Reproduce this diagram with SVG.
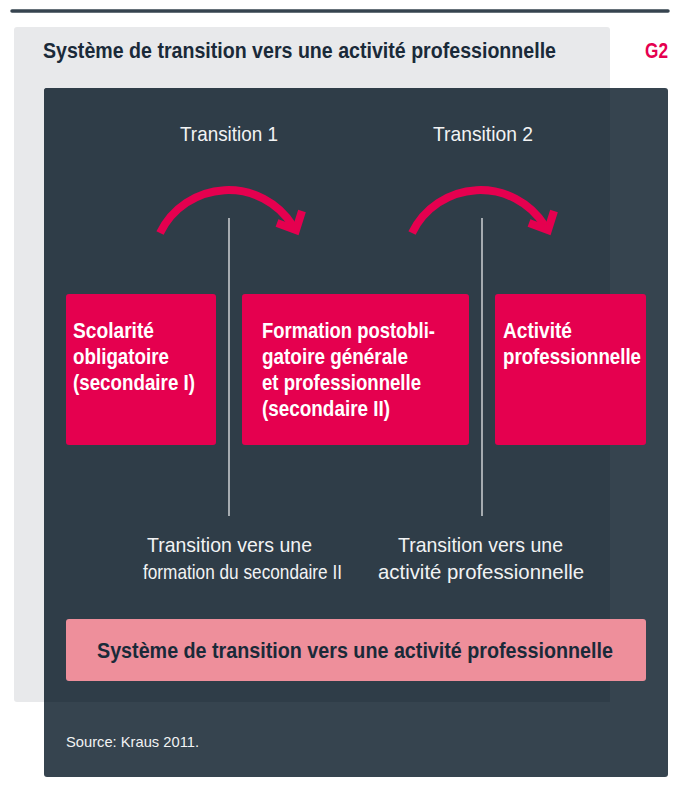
<svg xmlns="http://www.w3.org/2000/svg" width="681" height="807" viewBox="0 0 681 807">
<style>
.t{font-family:"Liberation Sans Narrow","Liberation Sans",Arial,sans-serif;}
.b{font-weight:bold;}
.w{fill:#f2f3f4;font-size:21px;}
.bw{fill:#ffffff;font-size:22px;font-weight:bold;}
.node rect{fill:#e5004f;}
.arc{fill:none;stroke:#e5004f;stroke-width:8;stroke-linejoin:miter;stroke-miterlimit:10;}
.sep{stroke:#e6e8ea;stroke-width:1.3;}
</style>
<rect width="681" height="807" fill="#ffffff"/>
<line x1="12" y1="11" x2="668" y2="11" stroke="#36444f" stroke-width="3.5" stroke-linecap="round"/>
<g id="background">
<rect x="14" y="27" width="596" height="675" rx="3" fill="#e8e9eb"/>
<text class="t b" x="43" y="58" font-size="22" fill="#1a2a39" textLength="513" lengthAdjust="spacingAndGlyphs">Système de transition vers une activité professionnelle</text>
<text class="t b" x="668" y="58" font-size="22" fill="#e5004f" text-anchor="end" textLength="23" lengthAdjust="spacingAndGlyphs">G2</text>
<rect x="44" y="88" width="624" height="689" rx="3" fill="#36444f"/>
<path d="M44 91 Q44 88 47 88 L610 88 L610 702 L44 702 Z" fill="#2f3d48"/>
</g>
<g id="labels">
<text class="t w" x="180" y="141" textLength="98" lengthAdjust="spacingAndGlyphs">Transition 1</text>
<text class="t w" x="433" y="141" textLength="100" lengthAdjust="spacingAndGlyphs">Transition 2</text>
<text class="t w" x="147" y="552" textLength="165" lengthAdjust="spacingAndGlyphs">Transition vers une</text>
<text class="t w" x="143" y="579" textLength="199" lengthAdjust="spacingAndGlyphs">formation du secondaire II</text>
<text class="t w" x="398" y="552" textLength="165" lengthAdjust="spacingAndGlyphs">Transition vers une</text>
<text class="t w" x="378" y="579" textLength="206" lengthAdjust="spacingAndGlyphs">activité professionnelle</text>
</g>
<g id="connectors">
<line class="sep" x1="229" y1="218" x2="229" y2="516"/>
<line class="sep" x1="482" y1="218" x2="482" y2="516"/>
<path class="arc" d="M160 233 A 76 76 0 0 1 293 226"/>
<path class="arc" d="M277 223 L296 230 L302 211"/>
<path class="arc" d="M412 233 A 76 76 0 0 1 545 226"/>
<path class="arc" d="M529 223 L548 230 L554 211"/>
</g>
<g id="node-scolarite" class="node">
<rect x="66" y="294" width="150" height="151" rx="3"/>
<text class="t bw" x="73" y="338" textLength="81" lengthAdjust="spacingAndGlyphs">Scolarité</text>
<text class="t bw" x="73" y="364" textLength="96" lengthAdjust="spacingAndGlyphs">obligatoire</text>
<text class="t bw" x="73" y="390" textLength="122" lengthAdjust="spacingAndGlyphs">(secondaire I)</text>
</g>
<g id="node-formation" class="node">
<rect x="242" y="294" width="227" height="151" rx="3"/>
<text class="t bw" x="262" y="338" textLength="173" lengthAdjust="spacingAndGlyphs">Formation postobli-</text>
<text class="t bw" x="262" y="364" textLength="146" lengthAdjust="spacingAndGlyphs">gatoire générale</text>
<text class="t bw" x="262" y="390" textLength="159" lengthAdjust="spacingAndGlyphs">et professionnelle</text>
<text class="t bw" x="262" y="416" textLength="128" lengthAdjust="spacingAndGlyphs">(secondaire II)</text>
</g>
<g id="node-activite" class="node">
<rect x="495" y="294" width="151" height="151" rx="3"/>
<text class="t bw" x="503" y="338" textLength="69" lengthAdjust="spacingAndGlyphs">Activité</text>
<text class="t bw" x="503" y="364" textLength="138" lengthAdjust="spacingAndGlyphs">professionnelle</text>
</g>
<g id="node-systeme">
<rect x="66" y="619" width="580" height="62" rx="3" fill="#ee8f9b"/>
<text class="t b" x="97" y="658" font-size="22" fill="#1a2a39" textLength="516" lengthAdjust="spacingAndGlyphs">Système de transition vers une activité professionnelle</text>
</g>
<text class="t" x="66" y="747" font-size="15" fill="#f2f3f4" textLength="133" lengthAdjust="spacingAndGlyphs">Source: Kraus 2011.</text>
</svg>
